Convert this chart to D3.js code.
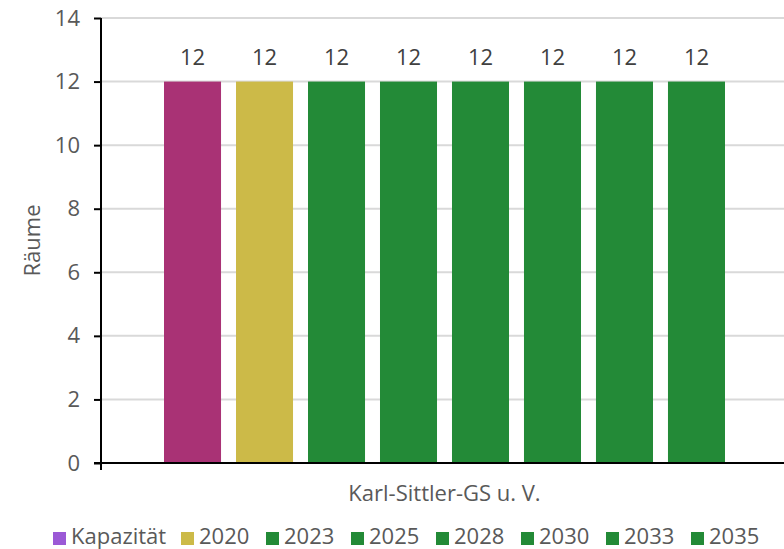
<!DOCTYPE html>
<html>
<head>
<meta charset="utf-8">
<script src="https://cdn.jsdelivr.net/npm/d3@7"></script>
<style>
  body { margin: 0; background: #fff; }
  text { font-family: "Open Sans", "Noto Sans", sans-serif; }
</style>
</head>
<body>
<div id="chart"></div>
<script>
// data
var categories = ["Karl-Sittler-GS u. V."];
var seriesNames = ["Kapazität", "2020", "2023", "2025", "2028", "2030", "2033", "2035"];
var seriesValues = [12, 12, 12, 12, 12, 12, 12, 12];
var barColors = ["#A93275", "#CCBA48", "#238A37", "#238A37", "#238A37", "#238A37", "#238A37", "#238A37"];
var legendColors = ["#9B59D6", "#CCBA48", "#238A37", "#238A37", "#238A37", "#238A37", "#238A37", "#238A37"];
var yTicks = [0, 2, 4, 6, 8, 10, 12, 14];

var width = 784, height = 549;
var plotLeft = 101, plotTop = 18, plotBottom = 463, plotRight = 788;

var svg = d3.select("#chart").append("svg")
    .attr("width", width)
    .attr("height", height);

var y = d3.scaleLinear().domain([0, 14]).range([plotBottom, plotTop]);

var x0 = d3.scaleBand()
    .domain(categories)
    .range([plotLeft, plotRight])
    .paddingInner(0)
    .paddingOuter(0.0964);

var x1 = d3.scaleBand()
    .domain(seriesNames)
    .range([0, x0.bandwidth()])
    .paddingInner(0.208)
    .paddingOuter(0.104);

// gridlines
svg.append("g")
    .selectAll("line")
    .data(yTicks.filter(function(d) { return d > 0; }))
    .enter().append("line")
    .attr("x1", plotLeft)
    .attr("x2", width)
    .attr("y1", function(d) { return y(d); })
    .attr("y2", function(d) { return y(d); })
    .attr("stroke", "#D9D9D9")
    .attr("stroke-width", 2);

// bars
var group = svg.append("g")
    .attr("transform", "translate(" + x0(categories[0]) + ",0)");

group.selectAll("rect")
    .data(seriesValues)
    .enter().append("rect")
    .attr("x", function(d, i) { return x1(seriesNames[i]); })
    .attr("y", function(d) { return y(d); })
    .attr("width", x1.bandwidth())
    .attr("height", function(d) { return y(0) - y(d); })
    .attr("fill", function(d, i) { return barColors[i]; });

group.selectAll("text")
    .data(seriesValues)
    .enter().append("text")
    .attr("x", function(d, i) { return x1(seriesNames[i]) + x1.bandwidth() / 2; })
    .attr("y", function(d) { return y(d) - 17; })
    .attr("text-anchor", "middle")
    .attr("font-size", "22px")
    .attr("fill", "#404040")
    .text(function(d) { return d; });

// y axis
var yAxis = svg.append("g")
    .attr("transform", "translate(" + plotLeft + ",0)")
    .call(d3.axisLeft(y).tickValues(yTicks).tickSize(7).tickPadding(14));
yAxis.select(".domain").remove();
yAxis.selectAll(".tick line").attr("stroke", "#000").attr("stroke-width", 2);
yAxis.selectAll(".tick text")
    .attr("font-size", "22px")
    .attr("fill", "#595959")
    .attr("font-family", "'Open Sans', 'Noto Sans', sans-serif");

svg.append("line")
    .attr("x1", plotLeft).attr("x2", plotLeft)
    .attr("y1", plotTop).attr("y2", plotBottom + 7)
    .attr("stroke", "#000").attr("stroke-width", 2);

// x axis
svg.append("line")
    .attr("x1", plotLeft - 7).attr("x2", width)
    .attr("y1", plotBottom).attr("y2", plotBottom)
    .attr("stroke", "#000").attr("stroke-width", 2);

svg.append("text")
    .attr("x", x0(categories[0]) + x0.bandwidth() / 2)
    .attr("y", 501)
    .attr("text-anchor", "middle")
    .attr("font-size", "22px")
    .attr("fill", "#595959")
    .text(categories[0]);

// y title
svg.append("text")
    .attr("transform", "translate(40," + ((plotTop + plotBottom) / 2) + ") rotate(-90)")
    .attr("text-anchor", "middle")
    .attr("font-size", "22px")
    .attr("fill", "#595959")
    .text("Räume");

// legend
var legendX = [53, 181, 266, 351, 436, 521, 606, 691];
var legend = svg.append("g").selectAll("g")
    .data(seriesNames)
    .enter().append("g")
    .attr("transform", function(d, i) { return "translate(" + legendX[i] + ",532)"; });

legend.append("rect")
    .attr("width", 13)
    .attr("height", 13)
    .attr("fill", function(d, i) { return legendColors[i]; });

legend.append("text")
    .attr("x", 18)
    .attr("y", 12)
    .attr("font-size", "22px")
    .attr("fill", "#595959")
    .text(function(d) { return d; });
</script>
</body>
</html>
